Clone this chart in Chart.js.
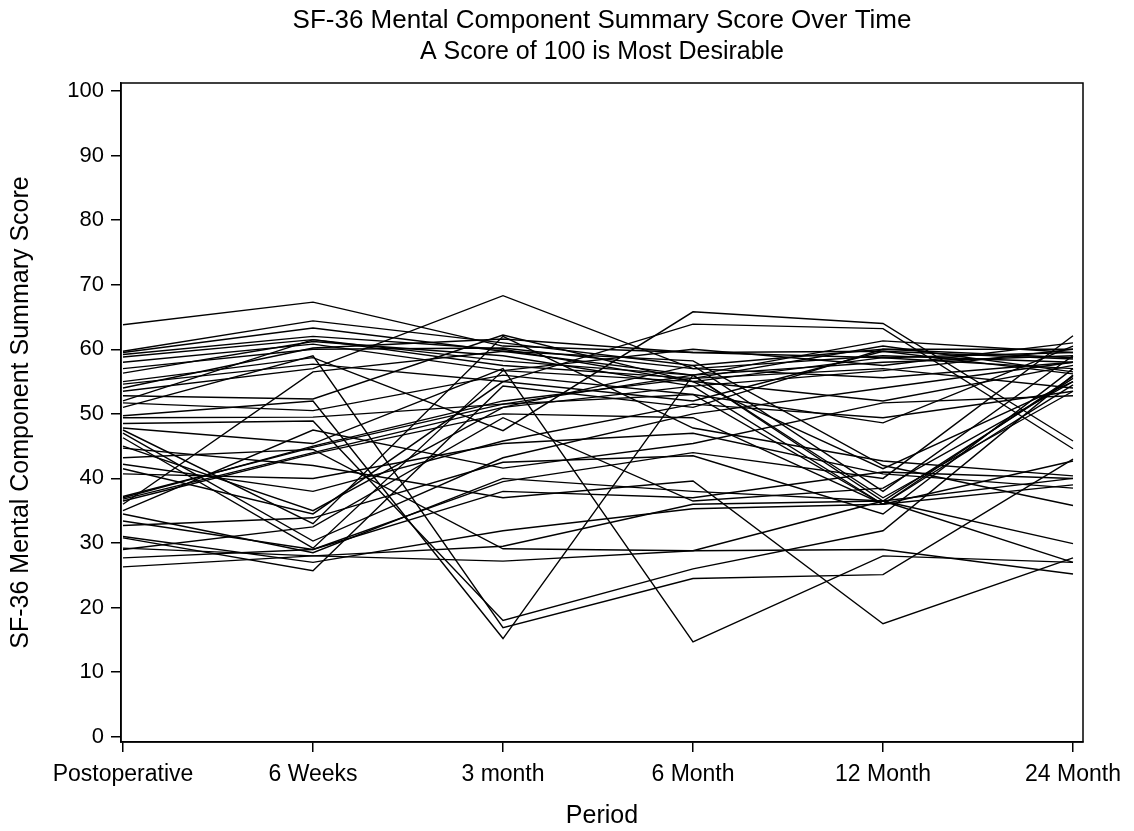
<!DOCTYPE html>
<html>
<head>
<meta charset="utf-8">
<script src="https://cdn.jsdelivr.net/npm/chart.js@4.4.0/dist/chart.umd.min.js"></script>
<style>
  body { margin: 0; background: #fff; }
  #chart1 { display: block; }
</style>
</head>
<body>
<canvas id="chart1" width="1134" height="831"></canvas>
<script>
// periods on the x axis
const periods = ["Postoperative", "6 Weeks", "3 month", "6 Month", "12 Month", "24 Month"];
const yTicks = [0, 10, 20, 30, 40, 50, 60, 70, 80, 90, 100];

// one line per subject: Postop, 6 Wk, 3 Mo, 6 Mo, 12 Mo, 24 Mo
const subj01 = [63.8, 67.3, 60.5, 59.5, 59.7, 58.5];
const subj02 = [59.7, 64.4, 61.0, 57.5, 60.0, 60.0];
const subj03 = [59.5, 63.3, 59.7, 56.0, 61.3, 59.5];
const subj04 = [59.2, 62.0, 60.0, 55.0, 58.7, 57.0];
const subj05 = [58.8, 61.5, 57.5, 55.5, 60.5, 56.5];
const subj06 = [58.0, 60.8, 56.7, 60.0, 57.5, 61.0];
const subj07 = [56.3, 61.2, 59.0, 54.3, 36.0, 54.5];
const subj08 = [55.0, 58.7, 47.4, 65.8, 64.0, 45.8];
const subj09 = [54.6, 57.7, 55.0, 63.9, 63.2, 44.6];
const subj10 = [53.5, 57.0, 68.3, 57.0, 55.6, 58.0];
const subj11 = [52.8, 52.3, 62.2, 55.0, 52.0, 57.5];
const subj12 = [52.0, 61.5, 58.2, 56.0, 37.0, 53.5];
const subj13 = [51.7, 50.5, 56.0, 53.0, 48.6, 60.5];
const subj14 = [51.0, 59.0, 16.9, 24.5, 25.1, 43.0];
const subj15 = [49.7, 52.0, 15.2, 56.0, 36.5, 40.0];
const subj16 = [49.4, 49.5, 51.5, 53.0, 36.0, 42.7];
const subj17 = [48.5, 48.9, 18.0, 26.0, 31.9, 56.0];
const subj18 = [47.8, 45.4, 57.0, 14.7, 28.0, 27.0];
const subj19 = [47.5, 33.0, 62.0, 47.8, 42.7, 40.4];
const subj20 = [47.0, 30.3, 43.2, 50.0, 54.0, 58.0];
const subj21 = [46.3, 29.2, 56.7, 55.0, 41.5, 55.0];
const subj22 = [45.0, 35.0, 51.0, 57.5, 38.0, 59.0];
const subj23 = [44.7, 42.0, 37.0, 39.6, 17.5, 27.7];
const subj24 = [43.2, 44.5, 29.1, 28.8, 36.5, 55.5];
const subj25 = [42.2, 38.0, 45.8, 51.5, 49.4, 53.5];
const subj26 = [41.5, 34.5, 55.0, 52.0, 59.7, 56.2];
const subj27 = [40.7, 40.0, 45.4, 47.0, 40.7, 38.5];
const subj28 = [37.2, 44.8, 51.5, 56.0, 58.0, 59.0];
const subj29 = [37.0, 45.0, 52.0, 55.5, 57.0, 54.0];
const subj30 = [36.8, 44.0, 51.0, 54.3, 56.7, 60.0];
const subj31 = [36.5, 43.8, 50.0, 49.4, 36.0, 55.8];
const subj32 = [36.0, 56.5, 59.7, 58.2, 42.0, 35.8];
const subj33 = [35.0, 47.5, 41.6, 45.4, 51.7, 52.8];
const subj34 = [34.5, 28.5, 40.0, 38.0, 36.5, 29.9];
const subj35 = [33.4, 29.0, 38.0, 37.0, 41.0, 40.0];
const subj36 = [32.7, 33.9, 42.5, 43.5, 34.5, 57.0];
const subj37 = [31.0, 27.0, 31.9, 35.3, 36.0, 39.0];
const subj38 = [30.8, 25.7, 54.3, 51.0, 60.0, 58.7];
const subj39 = [29.2, 28.0, 27.2, 28.8, 29.0, 25.2];
const subj40 = [29.0, 32.5, 49.4, 36.5, 38.5, 55.0];
const subj41 = [27.7, 29.0, 39.5, 44.0, 40.0, 62.1];
const subj42 = [26.3, 28.0, 29.5, 36.0, 36.5, 27.0];
const subj43 = [54.0, 60.2, 61.6, 59.5, 58.7, 59.5];
const subj44 = [57.0, 60.0, 60.2, 57.0, 59.0, 58.0];

const subjects = [subj01, subj02, subj03, subj04, subj05, subj06, subj07, subj08, subj09, subj10,
  subj11, subj12, subj13, subj14, subj15, subj16, subj17, subj18, subj19, subj20,
  subj21, subj22, subj23, subj24, subj25, subj26, subj27, subj28, subj29, subj30,
  subj31, subj32, subj33, subj34, subj35, subj36, subj37, subj38, subj39, subj40,
  subj41, subj42, subj43, subj44];

const FONT = "'Liberation Sans', Arial, sans-serif";

// titles centred over the plot area, plus the top/right sides of the frame
const framePlugin = {
  id: "frame",
  afterDraw(chart) {
    const ctx = chart.ctx;
    const a = chart.chartArea;
    ctx.save();
    ctx.strokeStyle = "#000";
    ctx.lineWidth = 1.5;
    ctx.strokeRect(a.left, a.top, a.right - a.left, a.bottom - a.top);
    ctx.fillStyle = "#000";
    ctx.textAlign = "center";
    ctx.textBaseline = "alphabetic";
    const cx = (a.left + a.right) / 2;
    ctx.font = "26px " + FONT;
    ctx.fillText("SF-36 Mental Component Summary Score Over Time", cx, 28);
    ctx.font = "25px " + FONT;
    ctx.fillText("A Score of 100 is Most Desirable", cx, 59);
    ctx.restore();
  }
};

const ctx = document.getElementById("chart1").getContext("2d");
const myChart = new Chart(ctx, {
  type: "line",
  data: {
    datasets: subjects.map((s, i) => ({
      label: "Subject " + (i + 1),
      data: s.map((v, j) => ({ x: j, y: v })),
      borderColor: "#000",
      borderWidth: 1.4,
      pointRadius: 0,
      tension: 0,
      fill: false,
    })),
  },
  plugins: [framePlugin],
  options: {
    responsive: false,
    animation: false,
    layout: { padding: { top: 83, right: 51, left: 0, bottom: 0 } },
    plugins: {
      legend: { display: false },
      tooltip: { enabled: false },
    },
    scales: {
      x: {
        type: "linear",
        min: -0.0105,
        max: 5.0526,
        afterBuildTicks: (scale) => {
          scale.ticks = periods.map((p, i) => ({ value: i }));
        },
        afterFit: (scale) => { scale.height = 89; },
        ticks: {
          callback: (v) => periods[v],
          color: "#000",
          font: { family: FONT, size: 23 },
          padding: 9,
          maxRotation: 0,
          autoSkip: false,
        },
        grid: { drawOnChartArea: false, tickLength: 10, color: "#000", lineWidth: 1.5 },
        border: { color: "#000", width: 1.5 },
        title: {
          display: true,
          text: "Period",
          color: "#000",
          font: { family: FONT, size: 25 },
          padding: { top: 0, bottom: 0 },
        },
      },
      y: {
        min: -0.82,
        max: 101.24,
        afterBuildTicks: (scale) => {
          scale.ticks = yTicks.map((v) => ({ value: v }));
        },
        afterFit: (scale) => { scale.width = 121; },
        ticks: {
          color: "#000",
          font: { family: FONT, size: 22 },
          padding: 7,
        },
        grid: { drawOnChartArea: false, tickLength: 10, color: "#000", lineWidth: 1.5 },
        border: { color: "#000", width: 1.5 },
        title: {
          display: true,
          text: "SF-36 Mental Component Summary Score",
          color: "#000",
          font: { family: FONT, size: 25 },
          padding: { top: 6, bottom: 0 },
        },
      },
    },
  },
});
</script>
</body>
</html>
